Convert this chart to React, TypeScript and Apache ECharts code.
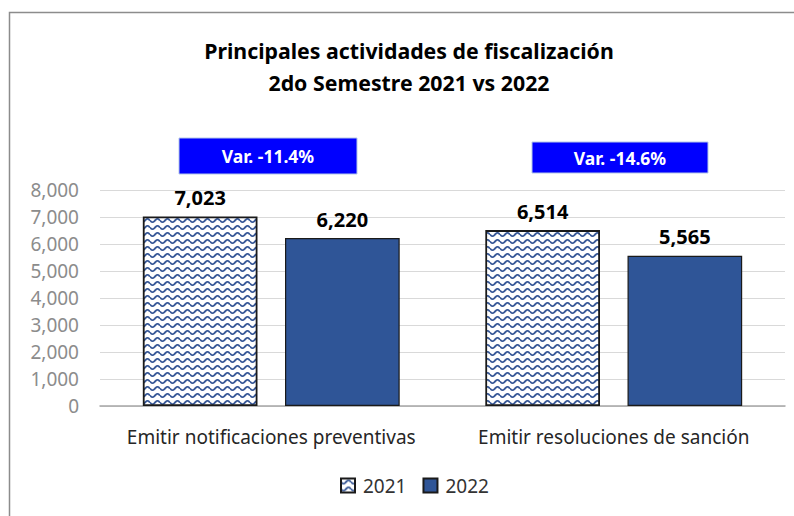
import React, { useEffect, useRef } from "react";
import * as echarts from "echarts";

const categories = ["Emitir notificaciones preventivas", "Emitir resoluciones de sanción"];
const seriesNames = ["2021", "2022"];
const values2021 = [7023, 6514];
const values2022 = [6220, 5565];
const yTicks = [0, 1000, 2000, 3000, 4000, 5000, 6000, 7000, 8000];
const titleLines = ["Principales actividades de fiscalización", "2do Semestre 2021 vs 2022"];

const FONT = "Noto Sans";

function makeWavePattern(): HTMLCanvasElement {
  const c = document.createElement("canvas");
  c.width = 10;
  c.height = 7;
  const ctx = c.getContext("2d")!;
  ctx.fillStyle = "#ffffff";
  ctx.fillRect(0, 0, 10, 7);
  ctx.strokeStyle = "#3a5a98";
  ctx.lineWidth = 1.8;
  ctx.beginPath();
  for (let x = 0; x <= 10; x += 0.5) {
    const y = 3.5 + 1.6 * Math.sin((x / 10) * Math.PI * 2);
    if (x === 0) ctx.moveTo(x, y);
    else ctx.lineTo(x, y);
  }
  ctx.stroke();
  return c;
}

const fmt = (v: number) => v.toLocaleString("en-US");

export default function App() {
  const ref = useRef<HTMLDivElement>(null);
  useEffect(() => {
    if (!ref.current) return;
    const chart = echarts.init(ref.current, null, { renderer: "svg" });
    const pattern = { image: makeWavePattern(), repeat: "repeat" };
    const variations = values2021.map((v, i) => ((values2022[i] - v) / v) * 100);
    const boxes = [
      { x: 179, y: 138, w: 178, h: 36 },
      { x: 532, y: 142, w: 176, h: 31 },
    ];
    const labelStyle = {
      show: true,
      position: "top",
      distance: 9,
      fontFamily: FONT,
      fontWeight: "bold",
      fontSize: 20,
      color: "#000000",
      formatter: (p: any) => fmt(p.value),
    };
    const option: any = {
      animation: false,
      backgroundColor: "#ffffff",
      title: {
        text: titleLines.join("\n"),
        left: 404,
        top: 29,
        textAlign: "center",
        textStyle: {
          fontFamily: FONT,
          fontWeight: "bold",
          fontSize: 21.3,
          lineHeight: 32,
          color: "#000000",
        },
      },
      grid: { left: 100, right: 9, top: 190, bottom: 110 },
      legend: {
        bottom: 16,
        left: 335,
        itemWidth: 14,
        itemHeight: 14,
        itemGap: 16,
        icon: "rect",
        textStyle: { fontFamily: FONT, fontSize: 19, color: "#333333", padding: [0, 0, 0, 3] },
        data: seriesNames,
      },
      xAxis: {
        type: "category",
        data: categories,
        axisLine: { lineStyle: { color: "#a6a6a6", width: 1.5 } },
        axisTick: { show: false },
        axisLabel: { fontFamily: FONT, fontSize: 19, color: "#262626", margin: 21, interval: 0 },
      },
      yAxis: {
        type: "value",
        min: 0,
        max: 8000,
        interval: 1000,
        axisLine: { show: false },
        axisTick: { show: false },
        splitLine: { lineStyle: { color: "#d9d9d9", width: 1.2 } },
        axisLabel: {
          fontFamily: FONT,
          fontSize: 19,
          color: "#8c8c8c",
          margin: 21,
          formatter: (v: number) => (yTicks.includes(v) ? fmt(v) : ""),
        },
      },
      series: [
        {
          name: seriesNames[0],
          type: "bar",
          data: values2021,
          barGap: "24%",
          barCategoryGap: "25%",
          itemStyle: { color: pattern, borderColor: "#1a1a1a", borderWidth: 1.8 },
          label: labelStyle,
        },
        {
          name: seriesNames[1],
          type: "bar",
          data: values2022,
          itemStyle: { color: "#2f5597", borderColor: "#1a1a1a", borderWidth: 1.2 },
          label: labelStyle,
        },
      ],
      graphic: [
        {
          type: "rect",
          shape: { x: 9.5, y: 12.5, width: 800, height: 520 },
          style: { fill: "none", stroke: "#8c8c8c", lineWidth: 1.5 },
          silent: true,
          z: 100,
        },
        ...boxes.map((b, i) => ({
          type: "group",
          children: [
            {
              type: "rect",
              shape: { x: b.x, y: b.y, width: b.w, height: b.h },
              style: { fill: "#0000ff", stroke: "#b4c7e7", lineWidth: 1 },
            },
            {
              type: "text",
              x: b.x + b.w / 2,
              y: b.y + b.h / 2,
              style: {
                text: `Var. ${variations[i].toFixed(1)}%`,
                fontFamily: FONT,
                fontWeight: "bold",
                fontSize: 17.5,
                fill: "#ffffff",
                align: "center",
                verticalAlign: "middle",
              },
            },
          ],
        })),
      ],
    };
    chart.setOption(option);
    return () => chart.dispose();
  }, []);
  return (
    <div
      ref={ref}
      style={{ position: "absolute", left: 0, top: 0, width: 794, height: 516 }}
    />
  );
}
